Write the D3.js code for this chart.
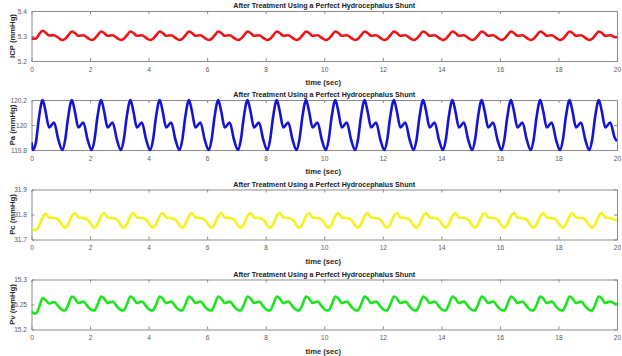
<!DOCTYPE html>
<html>
<head>
<meta charset="utf-8">
<script src="https://cdn.jsdelivr.net/npm/d3@7"></script>
<style>
  html, body { margin: 0; padding: 0; background: #ffffff; }
  svg { display: block; }
</style>
</head>
<body>
<svg id="chart" width="622" height="356"></svg>
<script>
// ---------------- DATA ----------------
const titleText = "After Treatment Using a Perfect Hydrocephalus Shunt";
const xLabelText = "time (sec)";
const xTicks = [0, 2, 4, 6, 8, 10, 12, 14, 16, 18, 20];

const yLabels = ["ICP (mmHg)", "Pa (mmHg)", "Pc (mmHg)", "Pv (mmHg)"];
const yDomains = [[5.2, 5.4], [119.8, 120.2], [31.7, 31.9], [15.2, 15.3]];
const yTicks = [[5.2, 5.3, 5.4], [119.8, 120, 120.2], [31.7, 31.8, 31.9], [15.2, 15.25, 15.3]];
const yTickLabels = [["5.2", "5.3", "5.4"], ["119.8", "120", "120.2"], ["31.7", "31.8", "31.9"], ["15.2", "15.25", "15.3"]];

// sample times (sec): start, 8 read points per heart beat, end
const time = [0,
  0.05, 0.15, 0.25, 0.38, 0.48, 0.6, 0.77, 0.92,
  1.05, 1.15, 1.25, 1.38, 1.48, 1.6, 1.77, 1.92,
  2.05, 2.15, 2.25, 2.38, 2.48, 2.6, 2.77, 2.92,
  3.05, 3.15, 3.25, 3.38, 3.48, 3.6, 3.77, 3.92,
  4.05, 4.15, 4.25, 4.38, 4.48, 4.6, 4.77, 4.92,
  5.05, 5.15, 5.25, 5.38, 5.48, 5.6, 5.77, 5.92,
  6.05, 6.15, 6.25, 6.38, 6.48, 6.6, 6.77, 6.92,
  7.05, 7.15, 7.25, 7.38, 7.48, 7.6, 7.77, 7.92,
  8.05, 8.15, 8.25, 8.38, 8.48, 8.6, 8.77, 8.92,
  9.05, 9.15, 9.25, 9.38, 9.48, 9.6, 9.77, 9.92,
  10.05, 10.15, 10.25, 10.38, 10.48, 10.6, 10.77, 10.92,
  11.05, 11.15, 11.25, 11.38, 11.48, 11.6, 11.77, 11.92,
  12.05, 12.15, 12.25, 12.38, 12.48, 12.6, 12.77, 12.92,
  13.05, 13.15, 13.25, 13.38, 13.48, 13.6, 13.77, 13.92,
  14.05, 14.15, 14.25, 14.38, 14.48, 14.6, 14.77, 14.92,
  15.05, 15.15, 15.25, 15.38, 15.48, 15.6, 15.77, 15.92,
  16.05, 16.15, 16.25, 16.38, 16.48, 16.6, 16.77, 16.92,
  17.05, 17.15, 17.25, 17.38, 17.48, 17.6, 17.77, 17.92,
  18.05, 18.15, 18.25, 18.38, 18.48, 18.6, 18.77, 18.92,
  19.05, 19.15, 19.25, 19.38, 19.48, 19.6, 19.77, 19.92,
  20];

const icp = [5.292,
  5.289, 5.290, 5.305, 5.321, 5.314, 5.302, 5.303, 5.293,
  5.284, 5.289, 5.302, 5.318, 5.312, 5.301, 5.303, 5.292,
  5.284, 5.289, 5.302, 5.318, 5.312, 5.301, 5.303, 5.292,
  5.284, 5.289, 5.302, 5.318, 5.312, 5.301, 5.303, 5.292,
  5.284, 5.289, 5.302, 5.318, 5.312, 5.301, 5.303, 5.292,
  5.284, 5.289, 5.302, 5.318, 5.312, 5.301, 5.303, 5.292,
  5.284, 5.289, 5.302, 5.318, 5.312, 5.301, 5.303, 5.292,
  5.284, 5.289, 5.302, 5.318, 5.312, 5.301, 5.303, 5.292,
  5.284, 5.289, 5.302, 5.318, 5.312, 5.301, 5.303, 5.292,
  5.284, 5.289, 5.302, 5.318, 5.312, 5.301, 5.303, 5.292,
  5.284, 5.289, 5.302, 5.318, 5.312, 5.301, 5.303, 5.292,
  5.284, 5.289, 5.302, 5.318, 5.312, 5.301, 5.303, 5.292,
  5.284, 5.289, 5.302, 5.318, 5.312, 5.301, 5.303, 5.292,
  5.284, 5.289, 5.302, 5.318, 5.312, 5.301, 5.303, 5.292,
  5.284, 5.289, 5.302, 5.318, 5.312, 5.301, 5.303, 5.292,
  5.284, 5.289, 5.302, 5.318, 5.312, 5.301, 5.303, 5.292,
  5.284, 5.289, 5.302, 5.318, 5.312, 5.301, 5.303, 5.292,
  5.284, 5.289, 5.302, 5.318, 5.312, 5.301, 5.303, 5.292,
  5.284, 5.289, 5.302, 5.318, 5.312, 5.301, 5.303, 5.292,
  5.284, 5.289, 5.302, 5.318, 5.312, 5.301, 5.303, 5.296,
  5.295];

const pa = [119.86,
  119.80, 119.86, 120.05, 120.20, 120.11, 119.98, 120.02, 119.88,
  119.80, 119.88, 120.06, 120.20, 120.11, 119.98, 120.02, 119.88,
  119.80, 119.88, 120.06, 120.20, 120.11, 119.98, 120.02, 119.88,
  119.80, 119.88, 120.06, 120.20, 120.11, 119.98, 120.02, 119.88,
  119.80, 119.88, 120.06, 120.20, 120.11, 119.98, 120.02, 119.88,
  119.80, 119.88, 120.06, 120.20, 120.11, 119.98, 120.02, 119.88,
  119.80, 119.88, 120.06, 120.20, 120.11, 119.98, 120.02, 119.88,
  119.80, 119.88, 120.06, 120.20, 120.11, 119.98, 120.02, 119.88,
  119.80, 119.88, 120.06, 120.20, 120.11, 119.98, 120.02, 119.88,
  119.80, 119.88, 120.06, 120.20, 120.11, 119.98, 120.02, 119.88,
  119.80, 119.88, 120.06, 120.20, 120.11, 119.98, 120.02, 119.88,
  119.80, 119.88, 120.06, 120.20, 120.11, 119.98, 120.02, 119.88,
  119.80, 119.88, 120.06, 120.20, 120.11, 119.98, 120.02, 119.88,
  119.80, 119.88, 120.06, 120.20, 120.11, 119.98, 120.02, 119.88,
  119.80, 119.88, 120.06, 120.20, 120.11, 119.98, 120.02, 119.88,
  119.80, 119.88, 120.06, 120.20, 120.11, 119.98, 120.02, 119.88,
  119.80, 119.88, 120.06, 120.20, 120.11, 119.98, 120.02, 119.88,
  119.80, 119.88, 120.06, 120.20, 120.11, 119.98, 120.02, 119.88,
  119.80, 119.88, 120.06, 120.20, 120.11, 119.98, 120.02, 119.88,
  119.80, 119.88, 120.06, 120.20, 120.11, 119.98, 120.02, 119.90,
  119.87];

const pc = [31.745,
  31.740, 31.738, 31.752, 31.788, 31.803, 31.788, 31.786, 31.779,
  31.757, 31.747, 31.760, 31.794, 31.806, 31.788, 31.786, 31.779,
  31.757, 31.747, 31.760, 31.794, 31.806, 31.788, 31.786, 31.779,
  31.757, 31.747, 31.760, 31.794, 31.806, 31.788, 31.786, 31.779,
  31.757, 31.747, 31.760, 31.794, 31.806, 31.788, 31.786, 31.779,
  31.757, 31.747, 31.760, 31.794, 31.806, 31.788, 31.786, 31.779,
  31.757, 31.747, 31.760, 31.794, 31.806, 31.788, 31.786, 31.779,
  31.757, 31.747, 31.760, 31.794, 31.806, 31.788, 31.786, 31.779,
  31.757, 31.747, 31.760, 31.794, 31.806, 31.788, 31.786, 31.779,
  31.757, 31.747, 31.760, 31.794, 31.806, 31.788, 31.786, 31.779,
  31.757, 31.747, 31.760, 31.794, 31.806, 31.788, 31.786, 31.779,
  31.757, 31.747, 31.760, 31.794, 31.806, 31.788, 31.786, 31.779,
  31.757, 31.747, 31.760, 31.794, 31.806, 31.788, 31.786, 31.779,
  31.757, 31.747, 31.760, 31.794, 31.806, 31.788, 31.786, 31.779,
  31.757, 31.747, 31.760, 31.794, 31.806, 31.788, 31.786, 31.779,
  31.757, 31.747, 31.760, 31.794, 31.806, 31.788, 31.786, 31.779,
  31.757, 31.747, 31.760, 31.794, 31.806, 31.788, 31.786, 31.779,
  31.757, 31.747, 31.760, 31.794, 31.806, 31.788, 31.786, 31.779,
  31.757, 31.747, 31.760, 31.794, 31.806, 31.788, 31.786, 31.779,
  31.757, 31.747, 31.760, 31.794, 31.806, 31.788, 31.786, 31.779,
  31.775];

const pv = [15.237,
  15.233, 15.232, 15.243, 15.263, 15.259, 15.252, 15.255, 15.246,
  15.239, 15.238, 15.249, 15.266, 15.262, 15.253, 15.256, 15.246,
  15.239, 15.238, 15.249, 15.266, 15.262, 15.253, 15.256, 15.246,
  15.239, 15.238, 15.249, 15.266, 15.262, 15.253, 15.256, 15.246,
  15.239, 15.238, 15.249, 15.266, 15.262, 15.253, 15.256, 15.246,
  15.239, 15.238, 15.249, 15.266, 15.262, 15.253, 15.256, 15.246,
  15.239, 15.238, 15.249, 15.266, 15.262, 15.253, 15.256, 15.246,
  15.239, 15.238, 15.249, 15.266, 15.262, 15.253, 15.256, 15.246,
  15.239, 15.238, 15.249, 15.266, 15.262, 15.253, 15.256, 15.246,
  15.239, 15.238, 15.249, 15.266, 15.262, 15.253, 15.256, 15.246,
  15.239, 15.238, 15.249, 15.266, 15.262, 15.253, 15.256, 15.246,
  15.239, 15.238, 15.249, 15.266, 15.262, 15.253, 15.256, 15.246,
  15.239, 15.238, 15.249, 15.266, 15.262, 15.253, 15.256, 15.246,
  15.239, 15.238, 15.249, 15.266, 15.262, 15.253, 15.256, 15.246,
  15.239, 15.238, 15.249, 15.266, 15.262, 15.253, 15.256, 15.246,
  15.239, 15.238, 15.249, 15.266, 15.262, 15.253, 15.256, 15.246,
  15.239, 15.238, 15.249, 15.266, 15.262, 15.253, 15.256, 15.246,
  15.239, 15.238, 15.249, 15.266, 15.262, 15.253, 15.256, 15.246,
  15.239, 15.238, 15.249, 15.266, 15.262, 15.253, 15.256, 15.246,
  15.239, 15.238, 15.249, 15.266, 15.262, 15.253, 15.256, 15.252,
  15.251];

const seriesValues = [icp, pa, pc, pv];
const seriesColors = ["#ea1419", "#1414d2", "#f2f21c", "#1ee41e"];

// ---------------- LAYOUT ----------------
const svg = d3.select("#chart");
const left = 31.5, right = 617;
const panelTops = [11, 100, 189.5, 279.5];
const panelH = 50;
const axisColor = "#8a8a8a";
const tickTextColor = "#5a5a5a";
const fontFam = "'Liberation Sans', Arial, Helvetica, sans-serif";

svg.append("rect").attr("width", 622).attr("height", 356).attr("fill", "#ffffff");

const x = d3.scaleLinear().domain([0, 20]).range([left, right]);

seriesValues.forEach((vals, i) => {
  const top = panelTops[i], bottom = top + panelH;
  const y = d3.scaleLinear().domain(yDomains[i]).range([bottom, top]);
  const g = svg.append("g");

  const clipId = "clip" + i;
  svg.append("clipPath").attr("id", clipId)
    .append("rect").attr("x", left).attr("y", top - 2).attr("width", right - left).attr("height", panelH + 4);

  // axes (inward ticks, MATLAB style box)
  const xb = g.append("g").attr("transform", `translate(0,${bottom})`)
    .call(d3.axisBottom(x).tickValues(xTicks).tickSize(-3).tickPadding(6).tickFormat(d3.format("d")));
  const xt = g.append("g").attr("transform", `translate(0,${top})`)
    .call(d3.axisTop(x).tickValues(xTicks).tickSize(-3).tickFormat(""));
  const yl = g.append("g").attr("transform", `translate(${left},0)`)
    .call(d3.axisLeft(y).tickValues(yTicks[i]).tickSize(-3).tickPadding(4.5)
      .tickFormat((d, k) => yTickLabels[i][k]));
  const yr = g.append("g").attr("transform", `translate(${right},0)`)
    .call(d3.axisRight(y).tickValues(yTicks[i]).tickSize(-3).tickFormat(""));

  [xb, xt, yl, yr].forEach(a => {
    a.selectAll("path.domain").attr("stroke", axisColor).attr("stroke-width", 1);
    a.selectAll(".tick line").attr("stroke", axisColor).attr("stroke-width", 1);
    a.selectAll(".tick text").attr("fill", tickTextColor)
      .style("font-family", fontFam).style("font-size", "6.6px");
  });
  xb.selectAll(".tick line").filter(d => d === 0 || d === 20).remove();
  xt.selectAll(".tick line").filter(d => d === 0 || d === 20).remove();
  yl.selectAll(".tick line").filter(d => d === yDomains[i][0] || d === yDomains[i][1]).remove();
  yr.selectAll(".tick line").filter(d => d === yDomains[i][0] || d === yDomains[i][1]).remove();

  // series line
  const line = d3.line()
    .x((d, k) => x(time[k]))
    .y(d => y(d))
    .curve(d3.curveMonotoneX);
  g.append("path")
    .datum(vals)
    .attr("clip-path", `url(#${clipId})`)
    .attr("fill", "none")
    .attr("stroke", seriesColors[i])
    .attr("stroke-width", 2.6)
    .attr("stroke-linejoin", "round")
    .attr("d", line);

  // title
  g.append("text")
    .attr("x", (left + right) / 2).attr("y", top - 3)
    .attr("text-anchor", "middle")
    .attr("textLength", 182).attr("lengthAdjust", "spacingAndGlyphs")
    .style("font-family", fontFam).style("font-size", "7.5px").style("font-weight", "bold")
    .attr("fill", "#1a1a1a")
    .text(titleText);

  // x label
  g.append("text")
    .attr("x", (left + right) / 2 - 1).attr("y", bottom + 24)
    .attr("text-anchor", "middle")
    .style("font-family", fontFam).style("font-size", "7.6px").style("font-weight", "bold")
    .attr("fill", "#262626")
    .text(xLabelText);

  // y label
  g.append("text")
    .attr("transform", `translate(14.8,${top + panelH / 2}) rotate(-90)`)
    .attr("text-anchor", "middle")
    .style("font-family", fontFam).style("font-size", "7.7px").style("font-weight", "bold")
    .attr("fill", "#262626")
    .text(yLabels[i]);
});
</script>
</body>
</html>
